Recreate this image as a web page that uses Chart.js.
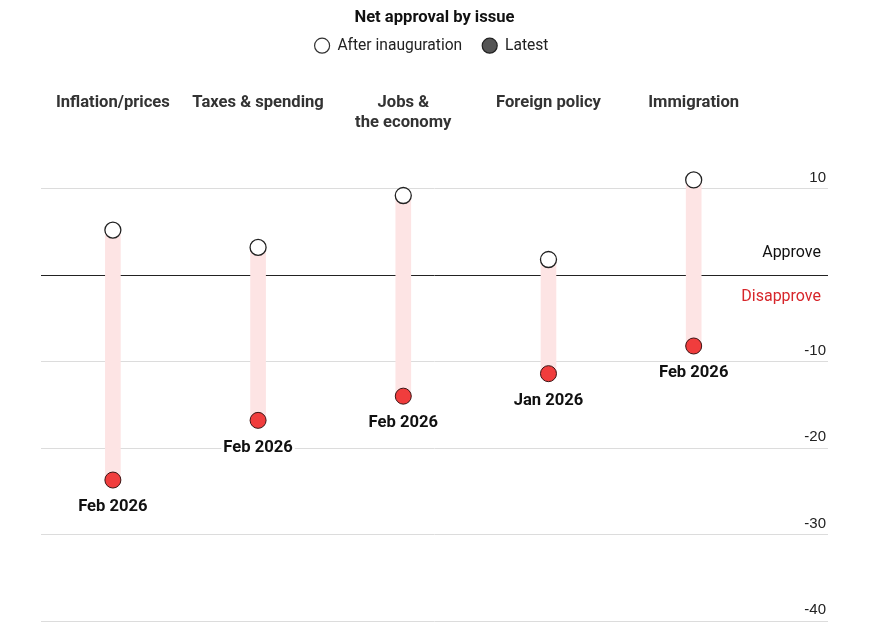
<!DOCTYPE html>
<html>
<head>
<meta charset="utf-8">
<script src="https://cdn.jsdelivr.net/npm/chart.js@4"></script>
<style>
  html, body { margin: 0; padding: 0; background: #fff; }
  #wrap { width: 873px; height: 643px; }
</style>
</head>
<body>
<div id="wrap"><canvas id="c" width="873" height="643"></canvas></div>
<script>
// ---- data ----
const categories = ["Inflation/prices", "Taxes & spending", ["Jobs &", "the economy"], "Foreign policy", "Immigration"];
const afterInauguration = [5.2, 3.2, 9.2, 1.8, 11.0];
const latest = [-23.7, -16.8, -14.0, -11.4, -8.2];
const latestDates = ["Feb 2026", "Feb 2026", "Feb 2026", "Jan 2026", "Feb 2026"];
const yTicks = [-40, -30, -20, -10, 0, 10];

const SANS = "Roboto, 'Noto Sans', sans-serif";

const nudgeHeader = {
  id: 'nudgeHeader',
  afterLayout(chart) {
    if (chart.legend) { chart.legend.left -= 3; chart.legend.right -= 3; }
  }
};

const annotations = {
  id: 'annotations',
  afterDatasetsDraw(chart) {
    const ctx = chart.ctx;
    const y = chart.scales.y;
    const area = chart.chartArea;
    const zero = y.getPixelForValue(0);
    ctx.save();
    ctx.font = "16px " + SANS;
    ctx.textAlign = 'right';
    ctx.textBaseline = 'middle';
    ctx.fillStyle = '#111';
    ctx.fillText('Approve', area.right - 7, zero - 22);
    ctx.fillStyle = '#d7262b';
    ctx.fillText('Disapprove', area.right - 7, zero + 22);

    // date labels below latest points
    const meta = chart.getDatasetMeta(2);
    ctx.font = "bold 16.6px " + SANS;
    ctx.textAlign = 'center';
    meta.data.forEach((pt, i) => {
      const tx = pt.x, ty = pt.y + 27;
      const w = ctx.measureText(latestDates[i]).width;
      ctx.fillStyle = '#fff';
      ctx.fillRect(tx - w / 2 - 2, ty - 9, w + 4, 18);
      ctx.fillStyle = '#111';
      ctx.fillText(latestDates[i], tx, ty);
    });
    ctx.restore();
  }
};

new Chart(document.getElementById('c'), {
  type: 'bar',
  data: {
    datasets: [
      {
        type: 'bar',
        label: 'range',
        data: categories.map((c, i) => ({ x: i, y: [afterInauguration[i], latest[i]] })),
        backgroundColor: '#fde4e4',
        borderWidth: 0,
        barThickness: 15,
        order: 3
      },
      {
        type: 'line',
        label: 'After inauguration',
        data: afterInauguration.map((v, i) => ({ x: i, y: v })),
        showLine: false,
        pointRadius: 8,
        pointHoverRadius: 8,
        pointBackgroundColor: '#ffffff',
        pointBorderColor: '#222',
        pointBorderWidth: 1.3,
        order: 1
      },
      {
        type: 'line',
        label: 'Latest',
        data: latest.map((v, i) => ({ x: i, y: v })),
        showLine: false,
        pointRadius: 8,
        pointHoverRadius: 8,
        pointBackgroundColor: '#f03d3d',
        pointBorderColor: '#3a1414',
        pointBorderWidth: 1,
        order: 1
      }
    ]
  },
  options: {
    responsive: false,
    animation: false,
    layout: { padding: { left: 41, right: 45, bottom: 22, top: 4 } },
    plugins: {
      tooltip: { enabled: false },
      title: {
        display: true,
        text: 'Net approval by issue',
        color: '#111',
        font: { family: SANS, size: 16.6, weight: 'bold' },
        padding: { top: 4, bottom: -10 }
      },
      legend: {
        display: true,
        position: 'top',
        labels: {
          usePointStyle: true,
          boxWidth: 15,
          boxHeight: 10.6,
          padding: 20,
          color: '#222',
          font: { family: SANS, size: 15.6 },
          generateLabels() {
            return [
              { text: 'After inauguration', fillStyle: '#ffffff', strokeStyle: '#333', lineWidth: 1.2, pointStyle: 'circle', hidden: false, datasetIndex: 1, fontColor: '#222' },
              { text: 'Latest', fillStyle: '#555555', strokeStyle: '#222', lineWidth: 1.2, pointStyle: 'circle', hidden: false, datasetIndex: 2, fontColor: '#222' }
            ];
          }
        }
      }
    },
    scales: {
      x: {
        type: 'linear',
        position: 'top',
        min: -0.495,
        max: 4.925,
        offset: false,
        grid: { display: false, drawTicks: false },
        border: { display: false },
        title: { display: true, text: '', font: { size: 1, lineHeight: 1 }, padding: { top: 0, bottom: 15 } },
        afterBuildTicks(axis) { axis.ticks = categories.map((c, i) => ({ value: i })); },
        ticks: {
          autoSkip: false,
          maxRotation: 0,
          minRotation: 0,
          crossAlign: 'far',
          padding: 13,
          color: '#333',
          font: { family: SANS, size: 16.6, weight: 'bold' },
          callback: (v) => categories[v]
        }
      },
      y: {
        type: 'linear',
        position: 'right',
        min: -40,
        max: 15,
        afterBuildTicks(axis) { axis.ticks = yTicks.map(v => ({ value: v })); },
        grid: {
          drawTicks: false,
          color: (ctx) => (ctx.tick && ctx.tick.value === 0) ? '#222' : '#dcdcdc',
          lineWidth: 1
        },
        border: { display: false },
        ticks: {
          mirror: true,
          padding: -2,
          labelOffset: -11,
          color: '#222',
          font: { family: "'Liberation Sans', Arial, sans-serif", size: 15 },
          callback: (v) => v === 0 ? '' : String(v)
        }
      }
    }
  },
  plugins: [nudgeHeader, annotations]
});
</script>
</body>
</html>
